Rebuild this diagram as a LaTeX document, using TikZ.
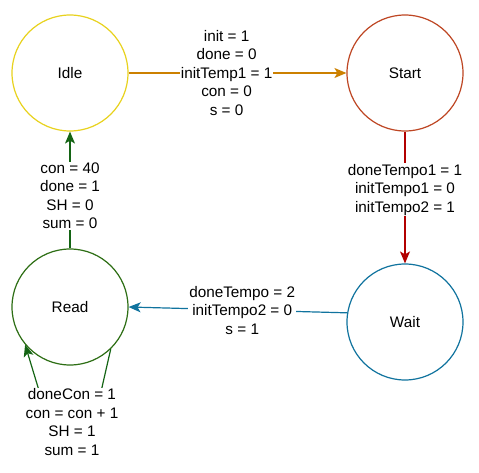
\documentclass[tikz,border=0pt]{standalone}
\usepackage{fontspec}
\setmainfont{Liberation Sans}
\usetikzlibrary{arrows.meta, positioning}
\definecolor{idlecolor}{RGB}{232, 210, 30}
\definecolor{startcolor}{RGB}{190, 70, 35}
\definecolor{waitcolor}{RGB}{16, 115, 158}
\definecolor{readcolor}{RGB}{45, 110, 20}
\definecolor{orangeline}{RGB}{204, 128, 0}
\definecolor{redline}{RGB}{178, 0, 0}
\definecolor{greenline}{RGB}{20, 100, 20}
\tikzstyle{state} = [circle, minimum size=116pt, inner sep=0pt, line width=1.2pt, fill=white,
                     font=\fontsize{15.3}{18.5}\selectfont]
\tikzstyle{arrow} = [-{Stealth[length=12pt, width=10pt, inset=3pt]}, line width=1.2pt]
\tikzstyle{cond} = [fill=white, inner sep=1pt, align=center,
                    font=\fontsize{15.3}{18.5}\selectfont]

\begin{document}
\begin{tikzpicture}[x=1pt, y=-1pt]
    \useasboundingbox (0,0) rectangle (479,473);
    % States
    \node[state, draw=idlecolor] (idle) at (70,73) {Idle};
    \node[state, draw=startcolor] (start) at (405,73) {Start};
    \node[state, draw=waitcolor] (wait) at (405,322) {Wait};
    \node[state, draw=readcolor] (read) at (70,307) {Read};
    \coordinate (loopr) at (90,440);
    \coordinate (loopl) at (54,440);

    % Transitions
    \draw[arrow, orangeline] (idle) -- node[cond, pos=0.45, text=black]
        {init = 1\\done = 0\\initTemp1 = 1\\con = 0\\s = 0} (start);
    \draw[arrow, redline] (start) -- node[cond, pos=0.44, text=black]
        {doneTempo1 = 1\\initTempo1 = 0\\initTempo2 = 1} (wait);
    \draw[arrow, waitcolor] (wait.171) -- node[cond, pos=0.48, text=black]
        {doneTempo = 2\\initTempo2 = 0\\s = 1} (read.east);
    \draw[arrow, greenline] (read) -- node[cond, pos=0.45, text=black]
        {con = 40\\done = 1\\SH = 0\\sum = 0} (idle);
    \draw[arrow, greenline] (read.-46) -- (loopr) -- (loopl) -- (read.-140);
    \node[cond] (looplabel) at (72,422)
        {doneCon = 1\\con = con + 1\\SH = 1\\sum = 1};
\end{tikzpicture}
\end{document}
